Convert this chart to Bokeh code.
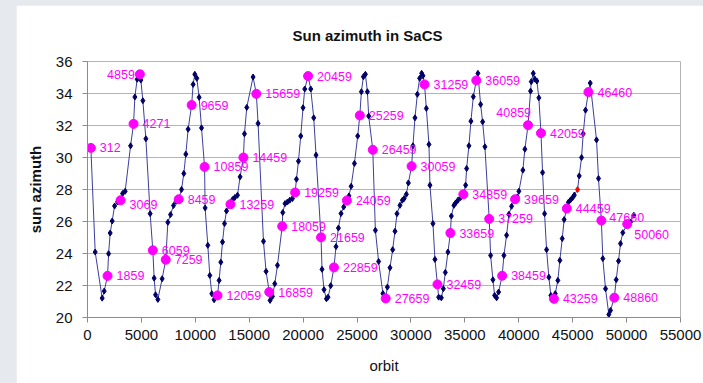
from bokeh.plotting import figure
from bokeh.models import ColumnDataSource, FixedTicker, Range1d
from bokeh.layouts import column
from bokeh.embed import file_html
from bokeh.resources import INLINE
from bokeh.core.properties import value

# ---------------- data ----------------
chart_title = "Sun azimuth in SaCS"
x_label = "orbit"
y_label = "sun azimuth"
x_ticks = [0, 5000, 10000, 15000, 20000, 25000, 30000, 35000, 40000, 45000, 50000, 55000]
y_ticks = [20, 22, 24, 26, 28, 30, 32, 34, 36]

# navy track (small diamond markers)
track_orbit = [
    714, 1362, 1548, 1956, 2104, 2289, 2512, 2790, 3253, 3494, 3995, 4393, 4606,
    4949, 5134, 5413, 5811, 6182, 6312, 6525, 6923, 7452, 7702, 7980, 8221, 8721,
    8934, 9120, 9333, 9796, 9954, 10139, 10352, 10575, 10909, 11159, 11344, 11529,
    11743, 12206, 12364, 12521, 12707, 12892, 13448, 13661, 13911, 14152, 14560,
    14773, 15357, 15820, 16320, 16562, 16933, 17155, 17369, 17619, 18110, 18323,
    18545, 18758, 19008, 19380, 19565, 19778, 19991, 20149, 20705, 20983, 21196,
    21752, 21937, 22160, 22308, 22558, 23050, 23272, 23513, 23763, 24250, 24450,
    24757, 25060, 25403, 25589, 25774, 25960, 26081, 26701, 27000, 27400, 27813,
    28055, 28305, 28518, 28704, 28981, 29204, 29361, 29574, 29760, 30186, 30372,
    30594, 30807, 30993, 31113, 31428, 31670, 31762, 32040, 32225, 32570, 32818,
    33003, 33187, 33430, 33745, 33985, 34143, 34356, 34606, 35070, 35163, 35376,
    35561, 35784, 36210, 36460, 36646, 36859, 37388, 37601, 37759, 37944, 38129,
    38622, 38870, 39083, 39333, 39862, 40010, 40380, 40566, 41094, 41159, 41344,
    41492, 41678, 41863, 42207, 42392, 42578, 42790, 42976, 43384, 43625, 43810,
    44032, 44208, 44600, 44800, 45000, 45150, 45607, 45822, 45977, 46191, 46627,
    47211, 47396, 47796, 48046, 48352, 48509, 49037, 49250, 49435, 49648, 50362,
    50670,
]
track_azimuth = [
    24.09, 21.21, 21.65, 23.99, 25.28, 26.03, 26.97, 27.22, 27.75, 27.89, 30.73, 33.78, 34.89,
    34.84, 33.55, 31.17, 26.49, 22.46, 21.42, 21.13, 22.42, 25.95, 26.43, 27.0, 27.26, 28.0,
    29.0, 30.21, 31.77, 34.57, 35.2, 34.95, 33.76, 31.85, 26.85, 24.51, 22.63, 21.49,
    21.11, 22.32, 23.46, 24.72, 25.87, 26.66, 27.37, 27.5, 27.64, 28.79, 31.48,
    33.13, 35.03, 32.13, 24.76, 22.88, 21.07, 21.32, 22.11, 23.26, 26.56, 27.12,
    27.22, 27.33, 27.43, 28.64, 29.77, 31.34, 33.11, 34.28, 34.28, 32.48, 30.15,
    23.01, 21.74, 21.17, 21.27, 21.99, 24.43, 25.59, 26.5, 26.91, 27.6, 28.2,
    29.63, 31.34, 34.11, 35.05, 35.2, 34.11, 32.59, 25.45, 23.5, 21.5, 21.9,
    23.11, 24.24, 25.39, 26.49, 27.01, 27.33, 27.43, 27.7, 28.41, 30.73, 32.48,
    33.95, 34.95, 35.26, 35.11, 33.07, 30.82, 28.27, 25.87, 23.63, 21.27, 21.23,
    21.8, 22.82, 24.09, 26.34, 27.01, 27.16, 27.33, 27.5, 28.27, 29.31, 30.73,
    32.27, 33.8, 35.26, 33.32, 32.23, 30.67, 23.88, 22.36, 21.38, 21.23, 21.59,
    23.88, 25.14, 26.45, 26.95, 27.53, 27.89, 29.21, 30.52, 34.15, 34.74, 35.26,
    34.9, 34.78, 33.73, 29.06, 26.49, 24.24, 22.52, 21.38, 21.49, 22.32, 23.57,
    24.93, 26.12, 27.2, 27.35, 27.5, 27.65, 28.85, 30.0, 31.48, 32.96, 34.65,
    31.1, 28.69, 23.68, 21.8, 20.19, 20.44, 22.36, 23.53, 24.62, 25.3, 25.97,
    26.39,
]

# labelled orbits (magenta dots)
marked_orbit = [
    312, 1859, 3069, 4271, 4859, 6059, 7259, 8459, 9659, 10859, 12059, 13259,
    14459, 15659, 16859, 18059, 19259, 20459, 21659, 22859, 24059, 25259, 26459,
    27659, 30059, 31259, 32459, 33659, 34859, 36059, 37259, 38459, 39659, 40859,
    42059, 43259, 44459, 46460, 47660, 48860, 50060,
]
marked_azimuth = [
    30.6, 22.6, 27.33, 32.1, 35.2, 24.2, 23.61, 27.39, 33.28, 29.41, 21.38, 27.08,
    30.0, 33.98, 21.59, 25.7, 27.81, 35.09, 25.01, 23.13, 27.31, 32.63, 30.48,
    21.19, 29.46, 34.57, 22.07, 25.28, 27.7, 34.82, 26.16, 22.61, 27.39, 32.02,
    31.52, 21.17, 26.81, 34.09, 26.06, 21.24, 25.84,
]

# single red marker
flag_orbit = [45450]
flag_azimuth = [28.0]

# ---------------- label placement ----------------
default_nudge = (9, 0, "left")
label_nudges = {
    3069: (9, 4, "left"),
    4859: (-5, 0, "right"),
    40859: (3, -13, "right"),
    47660: (8, -3, "left"),
    50060: (7, 10, "left"),
}

# ---------------- build sources ----------------
line_pts = sorted(list(zip(track_orbit, track_azimuth))
                  + list(zip(marked_orbit, marked_azimuth))
                  + list(zip(flag_orbit, flag_azimuth)))
line_src = ColumnDataSource(dict(x=[a for a, _ in line_pts], y=[b for _, b in line_pts]))
track_src = ColumnDataSource(dict(x=track_orbit, y=track_azimuth))
mark_src = ColumnDataSource(dict(
    x=marked_orbit, y=marked_azimuth,
    t=[str(o) for o in marked_orbit],
    dx=[label_nudges.get(o, default_nudge)[0] for o in marked_orbit],
    dy=[label_nudges.get(o, default_nudge)[1] for o in marked_orbit],
    al=[label_nudges.get(o, default_nudge)[2] for o in marked_orbit],
))
flag_src = ColumnDataSource(dict(x=flag_orbit, y=flag_azimuth))

FONT = "Liberation Sans"

p = figure(width=687, height=378,
           x_range=Range1d(0, 55000), y_range=Range1d(20, 36),
           output_backend="svg", toolbar_location=None, title=chart_title,
           min_border_left=71, min_border_right=23, min_border_top=56, min_border_bottom=66,
           margin=(5, 0, 0, 16))
p.background_fill_color = "white"
p.border_fill_color = "white"
p.outline_line_color = "#b4b4b4"

p.title.text_font = FONT
p.title.text_font_size = "15px"
p.title.text_font_style = "bold"
p.title.text_color = "#111111"
p.title.align = "left"
p.title.offset = 205
p.title.standoff = 36

xax = p.xaxis[0]
yax = p.yaxis[0]
xax.ticker = FixedTicker(ticks=x_ticks)
yax.ticker = FixedTicker(ticks=y_ticks)
xax.axis_label = x_label
yax.axis_label = y_label
for ax in (xax, yax):
    ax.axis_line_color = "#8c8c8c"
    ax.major_tick_line_color = "#8c8c8c"
    ax.major_tick_out = 5
    ax.major_tick_in = 0
    ax.minor_tick_line_color = None
    ax.major_label_text_font = FONT
    ax.major_label_text_font_size = "15px"
    ax.major_label_text_color = "#111111"
    ax.axis_label_text_font = FONT
    ax.axis_label_text_font_size = "15px"
    ax.axis_label_text_color = "#111111"
xax.major_label_standoff = 7
yax.major_label_standoff = 10
xax.axis_label_standoff = 14
yax.axis_label_standoff = 9
xax.axis_label_text_font_style = "normal"
yax.axis_label_text_font_style = "bold"

p.xgrid.visible = False
p.ygrid.ticker = FixedTicker(ticks=y_ticks)
p.ygrid.grid_line_color = "#b4b4b4"
p.ygrid.grid_line_width = 1

p.line("x", "y", source=line_src, line_color="#3b3f9c", line_width=1)
p.scatter("x", "y", source=track_src, marker="diamond", size=6,
          fill_color="#000066", line_color="#000066")
p.scatter("x", "y", source=flag_src, marker="diamond", size=6,
          fill_color="#ff0000", line_color="#ff0000")
p.scatter("x", "y", source=mark_src, marker="circle", size=9,
          fill_color="#ff00ff", line_color="#ff00ff")
p.text(x="x", y="y", text="t", source=mark_src, x_offset="dx", y_offset="dy",
       text_align="al", text_baseline="middle", text_color="#ff00ff",
       text_font=value(FONT), text_font_size="12.5px")

root = column(p, width=703, height=383, styles={"background-color": "#e6e9ee"})

open("out.html", "w").write(file_html(root, INLINE))
